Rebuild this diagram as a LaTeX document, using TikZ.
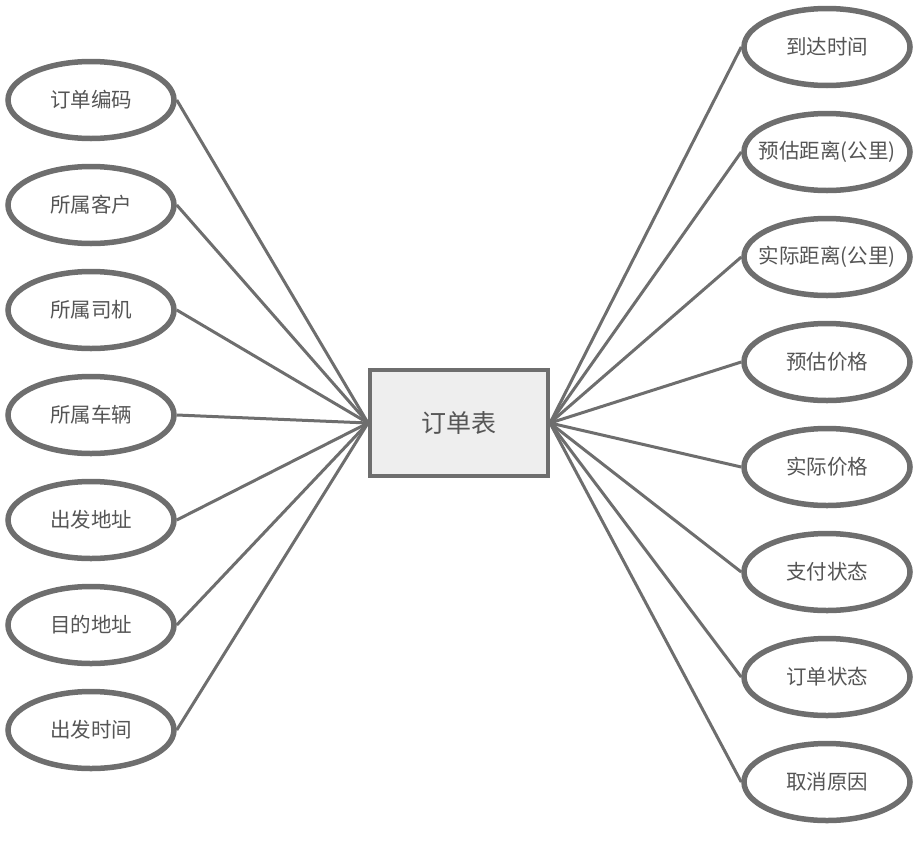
\documentclass[tikz,border=0pt]{standalone}
\usepackage{fontspec}
\setmainfont{Noto Sans CJK SC}
\usetikzlibrary{shapes.geometric}
\definecolor{lc}{HTML}{6E6E6E}
\definecolor{tc}{HTML}{555555}
\definecolor{bf}{HTML}{EEEEEE}
\begin{document}
\begin{tikzpicture}[x=1pt,y=-1pt,
  attr/.style={ellipse,draw=lc,line width=5.5pt,fill=white,minimum width=166pt,minimum height=77pt,inner xsep=-30pt,inner ysep=0pt,text=tc,font=\fontsize{20.5}{24}\selectfont},
  ent/.style={rectangle,draw=lc,line width=4pt,fill=bf,minimum width=178pt,minimum height=106pt,inner sep=0pt,text=tc,font=\fontsize{25}{28}\selectfont},
  conn/.style={draw=lc,line width=3pt}]
\useasboundingbox (0,0) rectangle (917,846);
\node[ent] (c) at (459,423) {订单表};
\node[attr] (l1) at (91,100) {订单编码};
\node[attr] (l2) at (91,205) {所属客户};
\node[attr] (l3) at (91,310) {所属司机};
\node[attr] (l4) at (91,415) {所属车辆};
\node[attr] (l5) at (91,520) {出发地址};
\node[attr] (l6) at (91,625) {目的地址};
\node[attr] (l7) at (91,730) {出发时间};
\node[attr] (r1) at (827,47) {到达时间};
\node[attr] (r2) at (827,152) {预估距离(公里)};
\node[attr] (r3) at (827,257) {实际距离(公里)};
\node[attr] (r4) at (827,362) {预估价格};
\node[attr] (r5) at (827,467) {实际价格};
\node[attr] (r6) at (827,572) {支付状态};
\node[attr] (r7) at (827,677) {订单状态};
\node[attr] (r8) at (827,782) {取消原因};
\foreach \i in {1,...,7} {\draw[conn] (l\i.east) -- (c.west);}
\foreach \i in {1,...,8} {\draw[conn] (r\i.west) -- (c.east);}
\end{tikzpicture}
\end{document}
